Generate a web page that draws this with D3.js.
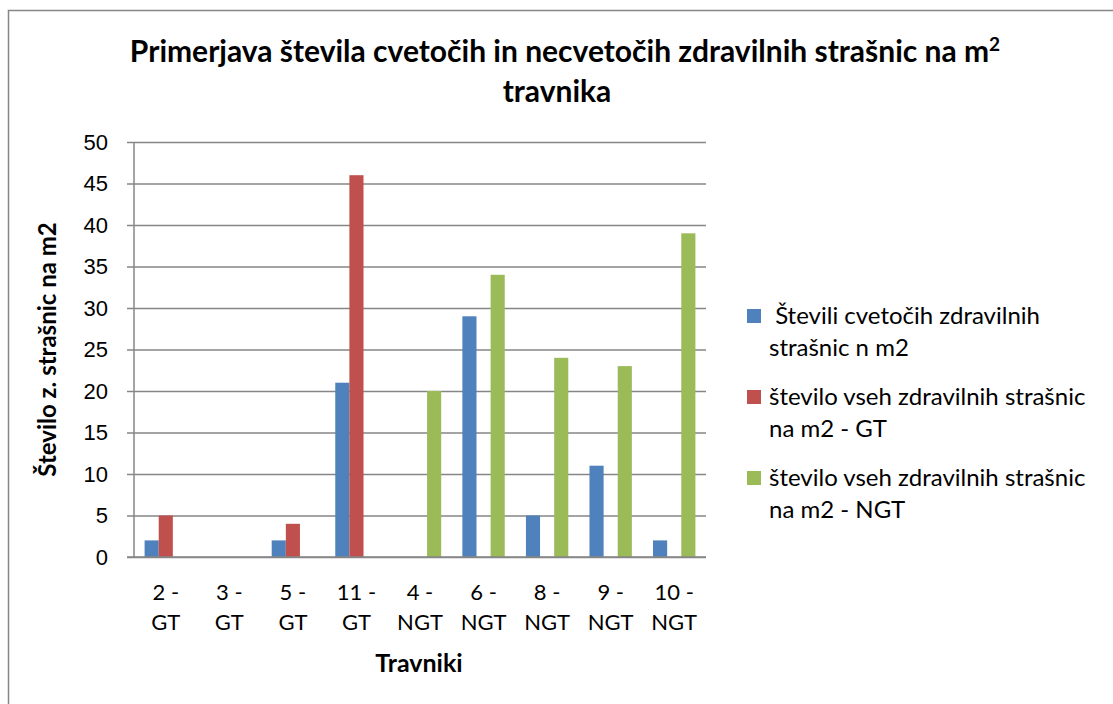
<!DOCTYPE html>
<html>
<head>
    <meta charset="utf-8">
    <title>Primerjava strašnic</title>
    <script src="https://d3js.org/d3.v7.min.js"></script>
    <style>
        body {
            margin: 0;
            background: #fff;
            font-family: Lato, "Open Sans", sans-serif;
        }
        .grid line {
            stroke: #868686;
            stroke-width: 1.5;
        }
        .tick text {
            font-size: 22px;
            fill: #000;
        }
    </style>
</head>
<body>
    <div id="chart"></div>

    <script>
        // Data
        const categories = ['2 - GT', '3 - GT', '5 - GT', '11 - GT', '4 - NGT', '6 - NGT', '8 - NGT', '9 - NGT', '10 - NGT'];
        const seriesNames = [
            ' Števili cvetočih zdravilnih|strašnic n m2',
            'število vseh zdravilnih strašnic|na m2 - GT',
            'število vseh zdravilnih strašnic|na m2 - NGT'
        ];
        const cvetoci = [2, 0, 2, 21, 0, 29, 5, 11, 2];
        const vsiGT = [5, 0, 4, 46, 0, 0, 0, 0, 0];
        const vsiNGT = [0, 0, 0, 0, 20, 34, 24, 23, 39];
        const yTicks = [0, 5, 10, 15, 20, 25, 30, 35, 40, 45, 50];
        const colors = ['#4f81bd', '#c0504d', '#9bbb59'];

        const width = 1113, height = 704;
        const margin = {top: 142, left: 134, right: 407, bottom: 147};

        const svg = d3.select('#chart')
            .append('svg')
            .attr('width', width)
            .attr('height', height);

        // Outer frame
        svg.append('path')
            .attr('d', `M8.5,${height} V10.5 H${width}`)
            .attr('fill', 'none')
            .attr('stroke', '#868686')
            .attr('stroke-width', 1.5);

        const x = d3.scaleBand()
            .domain(categories)
            .range([margin.left, width - margin.right]);

        const y = d3.scaleLinear()
            .domain([0, 50])
            .range([height - margin.bottom, margin.top]);

        // Gridlines + y axis
        const yAxis = svg.append('g')
            .attr('class', 'grid')
            .attr('transform', `translate(${margin.left},0)`)
            .call(d3.axisLeft(y)
                .tickValues(yTicks)
                .tickSize(-(width - margin.right - margin.left))
                .tickPadding(26));
        yAxis.select('.domain').remove();
        yAxis.selectAll('.tick').append('line')
            .attr('x1', -7).attr('x2', 0);
        yAxis.append('line')
            .attr('y1', y(0)).attr('y2', y(50));

        // Bars
        const series = [cvetoci, vsiGT, vsiNGT];
        const bw = x.bandwidth() / 4.5;
        series.forEach((vals, s) => {
            svg.append('g')
                .selectAll('rect')
                .data(vals)
                .join('rect')
                .attr('x', (d, i) => x(categories[i]) + bw * 0.75 + s * bw)
                .attr('y', d => y(d))
                .attr('width', bw)
                .attr('height', d => y(0) - y(d))
                .attr('fill', colors[s]);
        });

        // x axis line
        svg.append('line')
            .attr('x1', margin.left - 7).attr('x2', width - margin.right)
            .attr('y1', y(0)).attr('y2', y(0))
            .attr('stroke', '#868686').attr('stroke-width', 1.5);

        // x tick labels (two lines)
        const xl = svg.append('g')
            .selectAll('text')
            .data(categories)
            .join('text')
            .attr('text-anchor', 'middle')
            .attr('font-size', 22)
            .attr('fill', '#000');
        xl.each(function(d) {
            const parts = d.split(' - ');
            const cx = x(d) + x.bandwidth() / 2;
            d3.select(this).append('tspan').attr('x', cx).attr('y', 600).text(parts[0] + ' -');
            d3.select(this).append('tspan').attr('x', cx).attr('y', 630).text(parts[1]);
        });

        // Axis titles
        svg.append('text')
            .attr('x', 419)
            .attr('y', 672)
            .attr('text-anchor', 'middle')
            .attr('font-size', 25)
            .attr('font-weight', 'bold')
            .text('Travniki');

        svg.append('text')
            .attr('transform', `translate(56,${(y(0) + y(50)) / 2}) rotate(-90)`)
            .attr('text-anchor', 'middle')
            .attr('font-size', 24)
            .attr('font-weight', 'bold')
            .text('Število z. strašnic na m2');

        // Title
        const title = svg.append('text')
            .attr('x', 565)
            .attr('y', 62)
            .attr('text-anchor', 'middle')
            .attr('font-size', 30)
            .attr('font-weight', 'bold');
        title.append('tspan').text('Primerjava števila cvetočih in necvetočih zdravilnih strašnic na m');
        title.append('tspan').attr('font-size', 19).attr('dy', -11).text('2');
        svg.append('text')
            .attr('x', 557)
            .attr('y', 102)
            .attr('text-anchor', 'middle')
            .attr('font-size', 30)
            .attr('font-weight', 'bold')
            .text('travnika');

        // Legend
        const legend = svg.append('g')
            .selectAll('g')
            .data(seriesNames)
            .join('g')
            .attr('transform', (d, i) => `translate(747,${316 + i * 81})`);
        legend.append('rect')
            .attr('y', -7)
            .attr('width', 14)
            .attr('height', 14)
            .attr('fill', (d, i) => colors[i]);
        legend.append('text')
            .attr('font-size', 24)
            .attr('fill', '#000')
            .each(function(d) {
                const lines = d.split('|');
                d3.select(this).append('tspan').attr('x', 22).attr('y', 8).attr('xml:space', 'preserve').text(lines[0]);
                d3.select(this).append('tspan').attr('x', 22).attr('y', 40).text(lines[1]);
            });
    </script>
</body>
</html>
